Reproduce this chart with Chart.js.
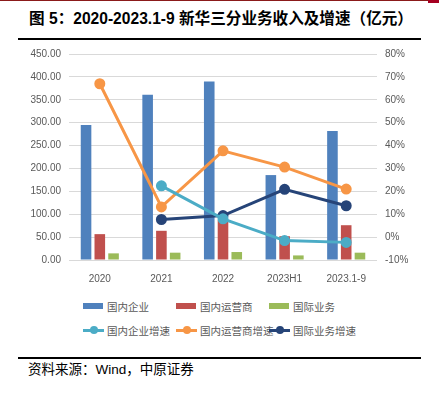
<!DOCTYPE html>
<html>
<head>
<meta charset="utf-8">
<script src="https://cdn.jsdelivr.net/npm/chart.js@4"></script>
<style>
  body { margin: 0; background: #fff; }
  #wrap { position: relative; width: 439px; height: 397px; overflow: hidden;
          font-family: Arial, "Liberation Sans", "Noto Sans CJK SC", sans-serif; }
  #title { position: absolute; left: 29px; top: 6px; font-size: 15.6px; font-weight: bold; color: #000; white-space: nowrap; }
  #title .cj { font-family: "Noto Sans CJK SC", sans-serif; }
  .rule { position: absolute; left: 18px; width: 403px; height: 2px; background: #000; }
  #topline { position: absolute; left: 0; top: 0; width: 439px; height: 1px; background: #8b1a1a; }
  #corner { position: absolute; left: 428px; top: 0; width: 11px; height: 3px; background: #a50021; }
  #src { position: absolute; left: 28px; top: 358px; font-size: 13.5px; color: #000; white-space: nowrap; }
  #cv { position: absolute; left: 0; top: 40px; }
  #legend { position: absolute; left: 83px; top: 297px; display: grid;
            grid-template-columns: 93px 93px 100px; row-gap: 6px;
            font-family: "Noto Sans CJK SC", sans-serif; font-size: 10.5px; color: #595959; }
  .item { display: flex; align-items: center; height: 18px; white-space: nowrap; }
  .sw { width: 20px; height: 6px; margin-right: 4px; position: relative; flex: none; }
  .ln { width: 21px; height: 3px; margin-right: 3px; position: relative; flex: none; }
  .ln i { position: absolute; left: 7px; top: -2.5px; width: 8px; height: 8px; border-radius: 50%; background: inherit; }
</style>
</head>
<body>
<div id="wrap">
  <div id="topline"></div>
  <div id="corner"></div>
  <div id="title"><span class="cj">图</span> 5<span class="cj">：</span>2020-2023.1-9 <span class="cj">新华三分业务收入及增速（亿元）</span></div>
  <div class="rule" style="top:38px"></div>
  <canvas id="cv" width="439" height="250"></canvas>
  <div id="legend"></div>
  <div class="rule" style="top:357px"></div>
  <div id="src">资料来源：Wind，中原证券</div>
</div>
<script>
// categories & series (亿元 / %)
const categories = ['2020', '2021', '2022', '2023H1', '2023.1-9'];
const domesticEnterprise = [295, 361, 390, 185.5, 282];
const domesticOperator   = [56.5, 63.8, 87, 52, 76];
const international      = [14.5, 16, 17.4, 10, 16];
const enterpriseGrowth    = [null, 22.4, 8, -1.5, -2.3];
const operatorGrowth      = [67, 13.2, 37.7, 30.6, 21];
const internationalGrowth = [null, 7.7, 9.4, 20.9, 13.7];

const leftTicks = [0, 50, 100, 150, 200, 250, 300, 350, 400, 450];
const rightTicks = [-10, 0, 10, 20, 30, 40, 50, 60, 70, 80];

const colors = {
    blue: '#4f81bd', red: '#c0504d', green: '#9bbb59',
    cyan: '#4bacc6', orange: '#f79646', navy: '#264478'
};

const barDefaults = { type: 'bar', yAxisID: 'y', categoryPercentage: 0.67, barPercentage: 0.77, order: 2 };
const lineDefaults = { type: 'line', yAxisID: 'y1', borderWidth: 3, pointRadius: 4, pointHoverRadius: 4,
                       tension: 0, spanGaps: false, order: 1 };

const datasets = [
    { ...barDefaults, label: '国内企业', data: domesticEnterprise, backgroundColor: colors.blue },
    { ...barDefaults, label: '国内运营商', data: domesticOperator, backgroundColor: colors.red },
    { ...barDefaults, label: '国际业务', data: international, backgroundColor: colors.green },
    { ...lineDefaults, label: '国内企业增速', data: enterpriseGrowth, borderColor: colors.cyan, backgroundColor: colors.cyan },
    { ...lineDefaults, label: '国内运营商增速', data: operatorGrowth, borderColor: colors.orange, backgroundColor: colors.orange },
    { ...lineDefaults, label: '国际业务增速', data: internationalGrowth, borderColor: colors.navy, backgroundColor: colors.navy }
];

const tickFont = { family: 'Arial, "Liberation Sans", sans-serif', size: 10 };

new Chart(document.getElementById('cv'), {
    data: { labels: categories, datasets },
    options: {
        responsive: false,
        animation: false,
        layout: { padding: { top: 13, left: 0, right: 0, bottom: 0 } },
        plugins: { legend: { display: false }, tooltip: { enabled: false } },
        scales: {
            x: {
                grid: { display: false },
                border: { display: false },
                ticks: { color: '#595959', font: tickFont, padding: 5, maxRotation: 0 },
                afterFit: s => { s.height = 30; }
            },
            y: {
                position: 'left',
                min: 0, max: 450,
                afterBuildTicks: s => { s.ticks = leftTicks.map(v => ({ value: v })); },
                grid: { color: '#d9d9d9', drawTicks: false },
                border: { display: false },
                ticks: { color: '#595959', font: tickFont, padding: 8, callback: v => v.toFixed(2) },
                afterFit: s => { s.width = 69; }
            },
            y1: {
                position: 'right',
                min: -10, max: 80,
                afterBuildTicks: s => { s.ticks = rightTicks.map(v => ({ value: v })); },
                grid: { display: false, drawTicks: false },
                border: { display: false },
                ticks: { color: '#595959', font: tickFont, padding: 8, callback: v => v + '%' },
                afterFit: s => { s.width = 62; }
            }
        }
    }
});

// legend (3 columns x 2 rows)
const legend = document.getElementById('legend');
datasets.forEach(d => {
    const item = document.createElement('div');
    item.className = 'item';
    const c = d.type === 'bar' ? d.backgroundColor : d.borderColor;
    item.innerHTML = d.type === 'bar'
        ? `<span class="sw" style="background:${c}"></span>${d.label}`
        : `<span class="ln" style="background:${c}"><i></i></span>${d.label}`;
    legend.appendChild(item);
});
</script>
</body>
</html>
